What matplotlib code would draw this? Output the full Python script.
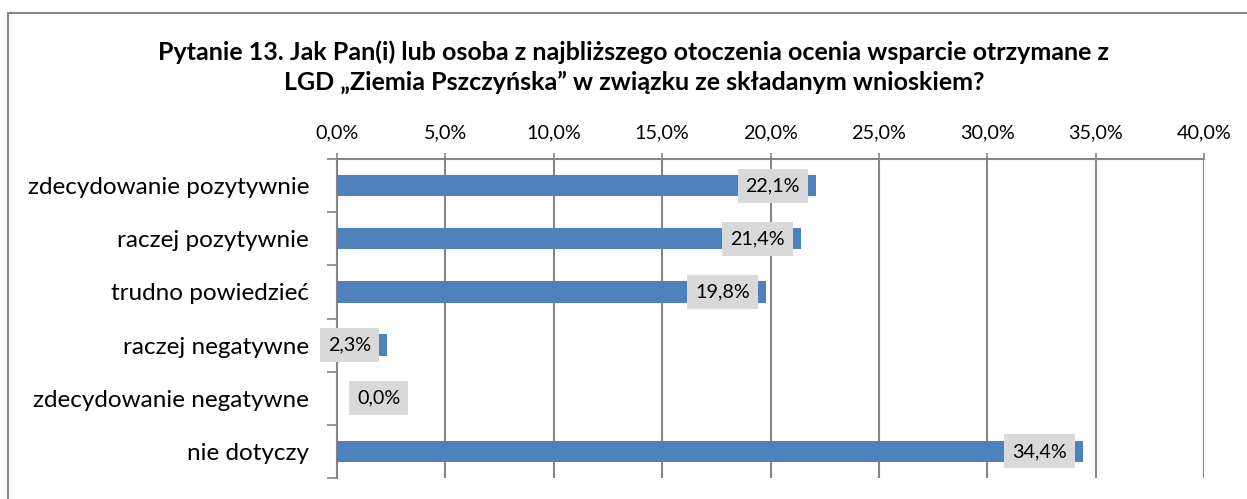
import matplotlib
matplotlib.use("Agg")
import matplotlib.pyplot as plt
from matplotlib.patches import Rectangle
from matplotlib.ticker import FixedLocator
from matplotlib.transforms import IdentityTransform

categories = ["zdecydowanie pozytywnie", "raczej pozytywnie", "trudno powiedzieć",
              "raczej negatywne", "zdecydowanie negatywne", "nie dotyczy"]
values = [22.1, 21.4, 19.8, 2.3, 0.0, 34.4]
xticks = [0, 5, 10, 15, 20, 25, 30, 35, 40]
title = "Pytanie 13. Jak Pan(i) lub osoba z najbliższego otoczenia ocenia wsparcie otrzymane z\nLGD \u201eZiemia Pszczyńska\u201d w związku ze składanym wnioskiem?"

def pl(v):
    return f"{v:.1f}".replace(".", ",") + "%"

plt.rcParams['font.family'] = ['Lato', 'DejaVu Sans']
W, H = 1247, 499
fig = plt.figure(figsize=(W/100, H/100), dpi=100)
ax = fig.add_axes([337/W, 1-478/H, (1204-337)/W, (478-159)/H])

grey = "#868686"
ypos = list(range(len(categories)))
ax.barh(ypos, values, height=0.4, color="#4f81bd", zorder=3)
ax.set_ylim(len(categories)-0.5, -0.5)
ax.set_xlim(0, 40)
ax.xaxis.set_major_locator(FixedLocator(xticks))
ax.xaxis.tick_top()
ax.set_xticklabels([pl(t) for t in xticks], fontsize=14.3)
ax.tick_params(axis='x', length=4.5, color=grey, width=1.2, pad=8)
ax.grid(axis='x', color=grey, linewidth=1.5, zorder=1)
ax.set_axisbelow(True)

ax.set_yticks(ypos)
ax.set_yticklabels(categories, fontsize=17.5)
ax.yaxis.set_minor_locator(FixedLocator([i - 0.5 for i in range(len(categories)+1)]))
ax.tick_params(axis='y', which='major', length=0, pad=20)
ax.tick_params(axis='y', which='minor', length=7, color=grey, width=1.2)

for s in ['right', 'bottom']:
    ax.spines[s].set_visible(False)
for s in ['top', 'left']:
    ax.spines[s].set_color(grey)
    ax.spines[s].set_linewidth(1.5)

labels = []
for y, v in zip(ypos, values):
    if v > 0:
        t = ax.annotate(pl(v), xy=(v, y), xytext=(-16, 0), textcoords='offset pixels',
                        ha='right', va='center', fontsize=14.2, zorder=5)
    else:
        t = ax.annotate(pl(v), xy=(v, y), xytext=(20, 0), textcoords='offset pixels',
                        ha='left', va='center', fontsize=14.2, zorder=5)
    labels.append((t, y))

fig.text(634/W, 1-67/H, title, ha='center', va='center', fontsize=18,
         fontweight='bold', linespacing=1.35)

fig.patches.append(Rectangle((8/W, -0.05), 1.2, 1-13/H+0.05, transform=fig.transFigure,
                             fill=False, ec=grey, lw=1.5))

fig.canvas.draw()
r = fig.canvas.get_renderer()
for t, y in labels:
    bb = t.get_window_extent(r)
    cy = ax.transData.transform((0, y))[1]
    ax.add_patch(Rectangle((bb.x0 - 8, cy - 17), bb.width + 16, 34,
                           transform=IdentityTransform(), fc='#d9d9d9', ec='none',
                           zorder=4, clip_on=False))

fig.savefig("out.png", dpi=100)
